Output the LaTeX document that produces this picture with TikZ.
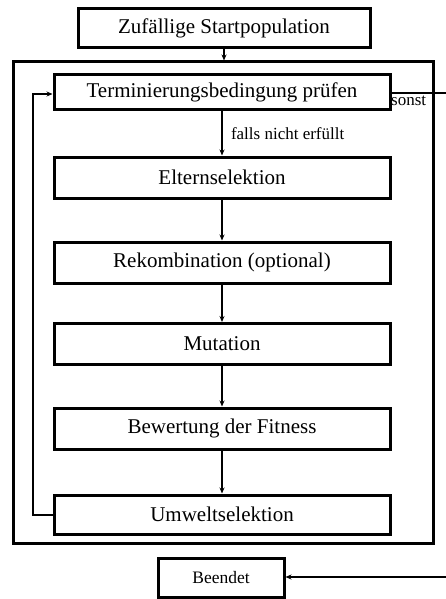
\documentclass[tikz,border=0pt]{standalone}
\usepackage{fontspec}
\setmainfont{Liberation Serif}
\usetikzlibrary{arrows.meta}
\begin{document}
\begin{tikzpicture}[x=1pt,y=-1pt,
  box/.style={draw, line width=3pt, minimum width=336pt, minimum height=39pt, inner sep=0pt, font=\fontsize{21}{24}\selectfont},
  conn/.style={line width=2pt, -{Stealth[length=6pt,width=5pt]}},
  lbl/.style={font=\fontsize{17}{19}\selectfont, inner sep=0pt}]
\useasboundingbox (0,0) rectangle (445,599);
\node[box, minimum width=292pt] (start) at (224,28.5) {Zufällige Startpopulation};
\node[draw, line width=3pt, minimum width=420pt, minimum height=481pt, inner sep=0pt] (outer) at (223,302.5) {};
\node[box, minimum height=35pt] (term) at (222,92.5) {Terminierungsbedingung prüfen};
\node[box, minimum height=41pt] (eltern) at (222,177.5) {Elternselektion};
\node[box, minimum height=41pt] (rekomb) at (222,262.5) {Rekombination (optional)};
\node[box, minimum height=41pt] (mut) at (222,344) {Mutation};
\node[box, minimum height=41pt] (bew) at (222,428.5) {Bewertung der Fitness};
\node[box] (umwelt) at (222,514.5) {Umweltselektion};
\node[box, minimum width=126pt, font=\fontsize{17.5}{20}\selectfont] (end) at (221,577.5) {Beendet};
\coordinate (sonstEnd) at (446,93);
\coordinate (endStart) at (446,577);
\coordinate (loopBot) at (33,514.5);
\coordinate (loopTop) at (33,94);
\draw[conn] (start.south) -- (start.south |- outer.north);
\draw[conn] (term.south) -- (eltern.north) node[lbl, midway, right=8pt] {falls nicht erfüllt};
\draw[conn] (eltern) -- (rekomb);
\draw[conn] (rekomb) -- (mut);
\draw[conn] (mut) -- (bew);
\draw[conn] (bew) -- (umwelt);
\draw[conn] (umwelt.west) -- (loopBot) -- (loopTop) -- (term.west |- loopTop);
\draw[line width=2pt] (term.east |- sonstEnd) -- (sonstEnd);
\node[lbl, anchor=north west] (sonst) at (391,96) {sonst};
\draw[conn] (endStart) -- (end.east |- endStart);
\end{tikzpicture}
\end{document}
